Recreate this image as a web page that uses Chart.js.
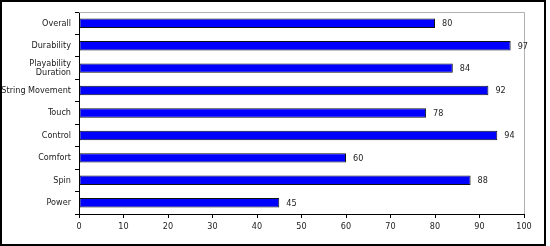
<!DOCTYPE html>
<html>
<head>
<meta charset="utf-8">
<script src="https://cdn.jsdelivr.net/npm/chart.js@4"></script>
<style>
  html, body { margin: 0; padding: 0; background: #fff; }
  #wrap { position: relative; width: 550px; height: 246px; }
  #frame { position: absolute; left: 0; top: 0; width: 542px; height: 242px; border: 2px solid #000; pointer-events: none; }
  canvas { position: absolute; left: 0; top: 0; }
</style>
</head>
<body>
<div id="wrap">
  <canvas id="chart" width="550" height="246"></canvas>
  <div id="frame"></div>
</div>
<script>
const categories = ['Overall', 'Durability', ['Playability', 'Duration'], 'String Movement', 'Touch', 'Control', 'Comfort', 'Spin', 'Power'];
const scores = [80, 97, 84, 92, 78, 94, 60, 88, 45];
const xTicks = [0, 10, 20, 30, 40, 50, 60, 70, 80, 90, 100];

const fontFamily = '"DejaVu Sans Condensed", "DejaVu Sans", sans-serif';

// gray frame on top and right of plot area
const plotFrame = {
    id: 'plotFrame',
    beforeDatasetsDraw(chart) {
        const { ctx, chartArea: a } = chart;
        ctx.save();
        ctx.strokeStyle = '#b0b0b0';
        ctx.lineWidth = 1;
        ctx.beginPath();
        ctx.moveTo(a.left, a.top + 0.5);
        ctx.lineTo(a.right + 0.5, a.top + 0.5);
        ctx.lineTo(a.right + 0.5, a.bottom);
        ctx.stroke();
        ctx.restore();
    }
};

// value labels right of each bar
const valueLabels = {
    id: 'valueLabels',
    afterDatasetsDraw(chart) {
        const { ctx } = chart;
        const meta = chart.getDatasetMeta(0);
        ctx.save();
        ctx.font = '9px ' + fontFamily;
        ctx.fillStyle = '#222';
        ctx.textAlign = 'left';
        ctx.textBaseline = 'middle';
        meta.data.forEach((bar, i) => {
            ctx.fillText(scores[i], bar.x + 7, bar.y + 0.5);
        });
        ctx.restore();
    }
};

new Chart(document.getElementById('chart'), {
    type: 'bar',
    data: {
        labels: categories,
        datasets: [{
            data: scores,
            backgroundColor: '#0000ff',
            borderColor: '#111',
            borderWidth: 1,
            borderSkipped: false,
            barPercentage: 0.42,
            categoryPercentage: 1
        }]
    },
    options: {
        indexAxis: 'y',
        responsive: false,
        animation: false,
        devicePixelRatio: 1,
        layout: { padding: { left: 2, top: 12, right: 26, bottom: 0 } },
        plugins: {
            legend: { display: false },
            tooltip: { enabled: false }
        },
        scales: {
            x: {
                min: 0,
                max: 100,
                afterBuildTicks: scale => { scale.ticks = xTicks.map(v => ({ value: v })); },
                afterFit: scale => { scale.height = 32; },
                grid: { drawOnChartArea: false, tickLength: 4, color: '#000' },
                border: { color: '#000' },
                ticks: { color: '#222', padding: 3, font: { family: fontFamily, size: 9 } }
            },
            y: {
                afterFit: scale => { scale.width = 77; },
                grid: { drawOnChartArea: false, offset: true, tickLength: 4, color: '#000' },
                border: { color: '#000' },
                ticks: { color: '#222', padding: 4, autoSkip: false, font: { family: fontFamily, size: 9, lineHeight: 1.1 } }
            }
        }
    },
    plugins: [plotFrame, valueLabels]
});
</script>
</body>
</html>
